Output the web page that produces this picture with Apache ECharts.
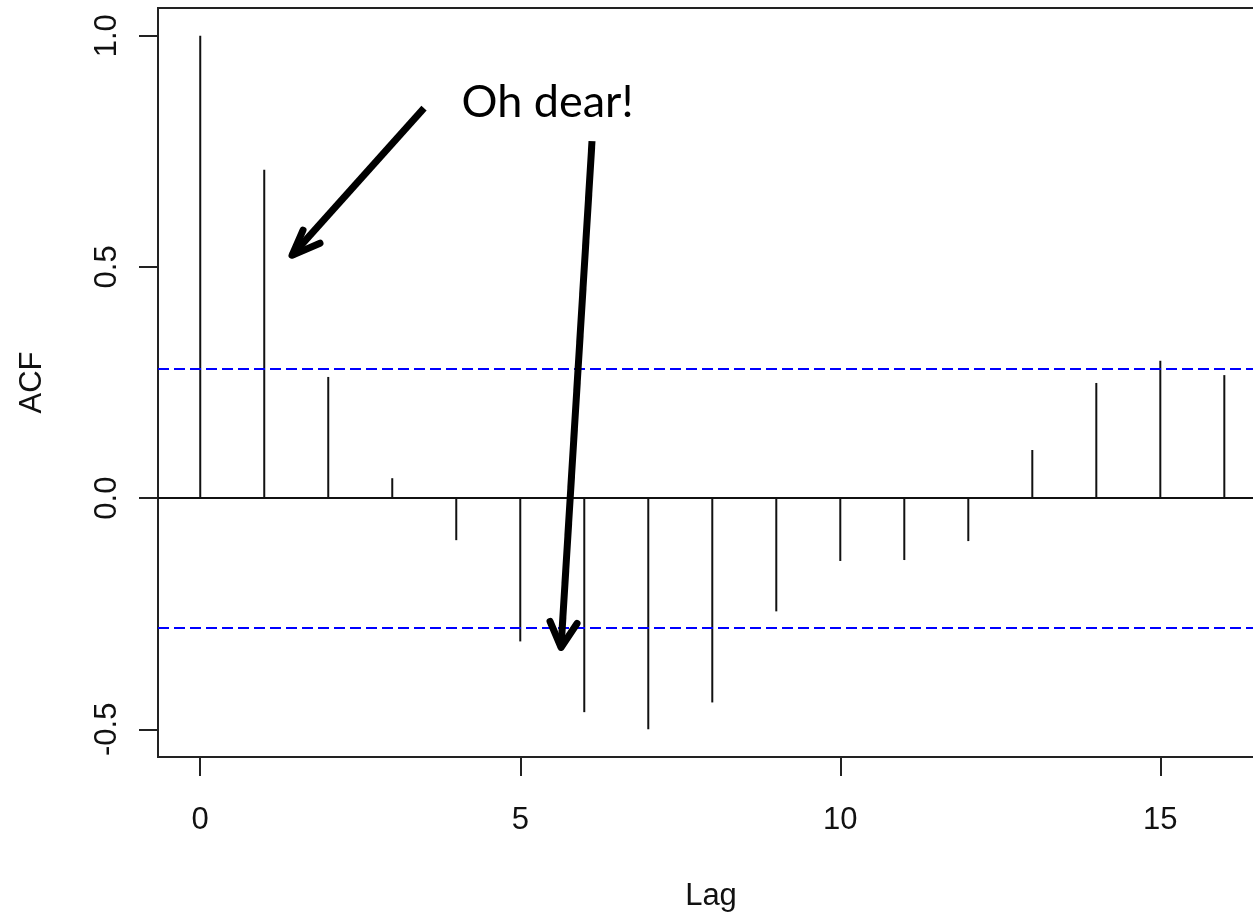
<!DOCTYPE html>
<html>
<head>
<meta charset="utf-8">
<script src="https://cdn.jsdelivr.net/npm/echarts@6/dist/echarts.min.js"></script>
<style>
  html, body { margin: 0; padding: 0; background: #fff; }
  #chart { width: 1253px; height: 913px; }
</style>
</head>
<body>
<div id="chart"></div>
<script>
// Autocorrelation by lag
const lags = [0, 1, 2, 3, 4, 5, 6, 7, 8, 9, 10, 11, 12, 13, 14, 15, 16];
const acf = [1.0, 0.71, 0.262, 0.043, -0.091, -0.31, -0.463, -0.5, -0.442,
             -0.245, -0.136, -0.134, -0.093, 0.104, 0.249, 0.297, 0.266];

// 95% significance bound (+/-)
const ciBound = 0.281;

// Tick values
const xTicks = [0, 5, 10, 15];
const yTicks = [-0.5, 0.0, 0.5, 1.0];

// Callout: text anchor and two arrows, in (lag, ACF) units
const noteText = 'Oh dear!';
const notePoint = [4.075, 0.855];
const arrow1Shaft = [[3.496, 0.8435], [1.434, 0.525]];
const arrow1Head = [[1.606, 0.5795], [1.434, 0.525], [1.871, 0.5513]];
const arrow2Shaft = [[6.121, 0.7721], [5.637, -0.3231]];
const arrow2Head = [[5.465, -0.2668], [5.637, -0.3231], [5.887, -0.2712]];

const spikeData = lags.map((l, i) => [l, acf[i]]);

const axisFont = 'Liberation Sans, Arial, sans-serif';
const ink = '#111';

function arrowSeries(points, cap) {
  return {
    type: 'line',
    data: points,
    showSymbol: false,
    symbol: 'none',
    silent: true,
    animation: false,
    clip: false,
    z: 10,
    lineStyle: { color: '#000', width: 7, cap: cap, join: 'round' }
  };
}

const chart = echarts.init(document.getElementById('chart'), null, { renderer: 'canvas' });

chart.setOption({
  animation: false,
  backgroundColor: '#fff',
  grid: {
    // plot box runs past the right edge of the canvas
    left: 158, top: 8, width: 1106, bottom: 156,
    outerBoundsMode: 'none',
    containLabel: false,
    show: true, borderColor: '#222', borderWidth: 2,
    backgroundColor: 'transparent'
  },
  xAxis: {
    type: 'value',
    min: -0.66, max: 16.62,
    name: 'Lag',
    nameLocation: 'middle',
    nameGap: 124,
    nameTextStyle: { fontFamily: axisFont, fontSize: 31, color: ink },
    axisLine: { show: false, onZero: false },
    splitLine: { show: false },
    axisTick: { show: true, length: 19, customValues: xTicks,
                lineStyle: { color: '#222', width: 2 } },
    axisLabel: { customValues: xTicks, margin: 48,
                 fontFamily: axisFont, fontSize: 31, color: ink }
  },
  yAxis: {
    type: 'value',
    min: -0.56, max: 1.06,
    name: 'ACF',
    nameLocation: 'middle',
    nameGap: 110,
    nameTextStyle: { fontFamily: axisFont, fontSize: 31, color: ink },
    axisLine: { show: false, onZero: false },
    splitLine: { show: false },
    axisTick: { show: true, length: 19, customValues: yTicks,
                lineStyle: { color: '#222', width: 2 } },
    axisLabel: { customValues: yTicks, margin: 35, rotate: 90,
                 fontFamily: axisFont, fontSize: 31, color: ink,
                 formatter: v => Number(v).toFixed(1) }
  },
  series: [
    {
      type: 'bar',
      data: spikeData,
      barWidth: 2,
      silent: true,
      itemStyle: { color: ink },
      markLine: {
        silent: true,
        symbol: 'none',
        label: { show: false },
        data: [
          { yAxis: 0, lineStyle: { color: ink, width: 2, type: 'solid' } },
          { yAxis: ciBound, lineStyle: { color: '#0000ff', width: 2, type: [11, 5] } },
          { yAxis: -ciBound, lineStyle: { color: '#0000ff', width: 2, type: [11, 5] } }
        ]
      }
    },
    arrowSeries(arrow1Shaft, 'butt'),
    arrowSeries(arrow1Head, 'round'),
    arrowSeries(arrow2Shaft, 'butt'),
    arrowSeries(arrow2Head, 'round'),
    {
      type: 'scatter',
      data: [notePoint],
      symbolSize: 1,
      silent: true,
      itemStyle: { color: 'transparent' },
      label: {
        show: true,
        position: 'right',
        distance: 0,
        formatter: noteText,
        fontFamily: 'Lato, "Open Sans", sans-serif',
        fontSize: 45,
        color: '#000',
        opacity: 1,
        textBorderWidth: 0
      },
      z: 11
    }
  ]
});
</script>
</body>
</html>
